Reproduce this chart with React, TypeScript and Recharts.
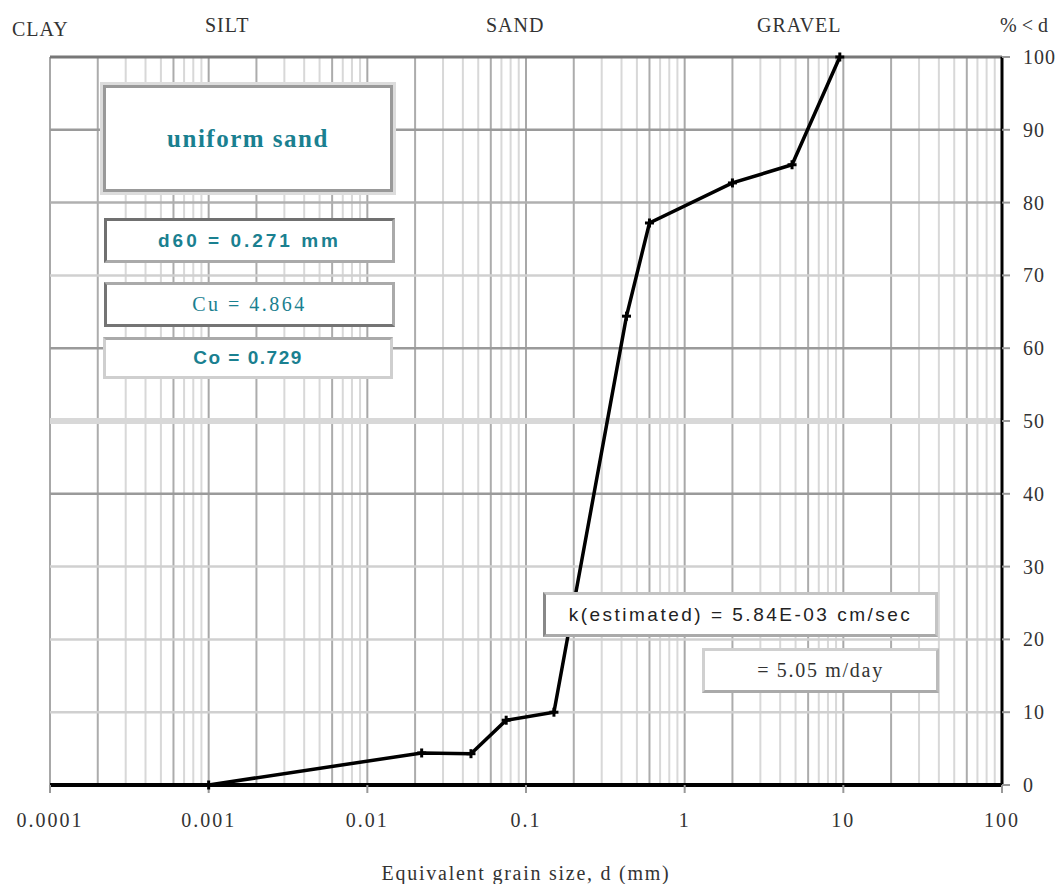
import React from 'react';
import { LineChart, Line, XAxis, YAxis, ReferenceLine } from 'recharts';

// sieve results: grain size (mm) vs percent finer
const grainSize = [0.001, 0.022, 0.045, 0.075, 0.15, 0.43, 0.6, 2.0, 4.75, 9.5];
const percentFiner = [0, 4.4, 4.3, 8.9, 10.0, 64.4, 77.2, 82.7, 85.2, 100];

const xTicks = [0.0001, 0.001, 0.01, 0.1, 1, 10, 100];
const yTicks = [0, 10, 20, 30, 40, 50, 60, 70, 80, 90, 100];
const decades = [0.0001, 0.001, 0.01, 0.1, 1, 10];
const minorSteps = [2, 3, 4, 5, 6, 7, 8, 9];
const darkerSteps = [2, 6];

const classLabels = ['CLAY', 'SILT', 'SAND', 'GRAVEL'];

const data = grainSize.map((size, i) => ({ size, pct: percentFiner[i] }));

const SERIF = '"Liberation Serif", "Times New Roman", serif';
const SANS = '"Liberation Sans", Arial, sans-serif';
const TEAL = '#1a8090';

const XTick = ({ x, y, payload }: any) => (
  <text x={x} y={y + 32} textAnchor="middle" fontFamily={SERIF} fontSize={20} letterSpacing={2} fill="#333">
    {String(payload.value)}
  </text>
);

const YTick = ({ x, y, payload }: any) => (
  <text x={x + 11} y={y} dy="0.35em" textAnchor="start" fontFamily={SERIF} fontSize={20} letterSpacing={1} fill="#333">
    {payload.value}
  </text>
);

const CrossDot = ({ cx, cy }: any) => {
  if (cx == null || cy == null) return null;
  return (
    <g>
      <line x1={cx - 4.5} y1={cy} x2={cx + 4.5} y2={cy} stroke="#000" strokeWidth={3} />
      <line x1={cx} y1={cy - 4.5} x2={cx} y2={cy + 4.5} stroke="#000" strokeWidth={3} />
    </g>
  );
};

const boxBase: React.CSSProperties = {
  position: 'absolute',
  boxSizing: 'border-box',
  background: '#fff',
  display: 'flex',
  alignItems: 'center',
  justifyContent: 'center',
  whiteSpace: 'nowrap',
};

const topLabel: React.CSSProperties = {
  position: 'absolute',
  fontFamily: SERIF,
  fontSize: 20,
  letterSpacing: 1,
  color: '#333',
  whiteSpace: 'nowrap',
};

export default function App() {
  const minorLines: number[] = [];
  const midLines: number[] = [];
  decades.forEach((d) => {
    minorSteps.forEach((m) => {
      const v = +(d * m).toPrecision(3);
      if (darkerSteps.includes(m)) midLines.push(v);
      else minorLines.push(v);
    });
  });

  const hColor = (v: number) => {
    if (v === 50) return { stroke: '#d8d8d8', w: 6 };
    if (v === 90 || v === 60 || v === 40) return { stroke: '#9a9a9a', w: 2.5 };
    if (v === 80) return { stroke: '#b0b0b0', w: 2.5 };
    return { stroke: '#d0d0d0', w: 2.5 };
  };

  return (
    <div style={{ position: 'absolute', left: 0, top: 0, width: 1056, height: 884, background: '#fff', overflow: 'hidden' }}>
      <LineChart width={1056} height={884} data={data} margin={{ top: 57, right: 0, left: 50, bottom: 0 }}>
        {minorLines.map((v) => (
          <ReferenceLine key={`mn-${v}`} x={v} stroke="#d8d8d8" strokeWidth={2} />
        ))}
        {midLines.map((v) => (
          <ReferenceLine key={`md-${v}`} x={v} stroke="#acacac" strokeWidth={2} />
        ))}
        {xTicks.map((v) => (
          <ReferenceLine key={`mj-${v}`} x={v} stroke="#a8a8a8" strokeWidth={2} />
        ))}
        {yTicks.slice(1, -1).map((v) => {
          const c = hColor(v);
          return <ReferenceLine key={`h-${v}`} y={v} stroke={c.stroke} strokeWidth={c.w} />;
        })}
        <ReferenceLine y={100} stroke="#777" strokeWidth={3} />
        <XAxis
          dataKey="size"
          type="number"
          scale="log"
          domain={[0.0001, 100]}
          ticks={xTicks}
          interval={0}
          allowDataOverflow
          height={99}
          axisLine={{ stroke: '#000', strokeWidth: 4 }}
          tickLine={{ stroke: '#999', strokeWidth: 2 }}
          tickSize={8}
          tick={<XTick />}
        />
        <YAxis
          orientation="right"
          type="number"
          domain={[0, 100]}
          ticks={yTicks}
          interval={0}
          width={54}
          axisLine={{ stroke: '#000', strokeWidth: 3 }}
          tickLine={{ stroke: '#999', strokeWidth: 2 }}
          tickSize={8}
          tick={<YTick />}
        />
        <Line
          type="linear"
          dataKey="pct"
          stroke="#000"
          strokeWidth={3.5}
          dot={<CrossDot />}
          activeDot={false}
          isAnimationActive={false}
        />
      </LineChart>

      {/* soil class labels along the top */}
      <div style={{ ...topLabel, left: 12, top: 18 }}>{classLabels[0]}</div>
      <div style={{ ...topLabel, left: 205, top: 14 }}>{classLabels[1]}</div>
      <div style={{ ...topLabel, left: 486, top: 14 }}>{classLabels[2]}</div>
      <div style={{ ...topLabel, left: 757, top: 14 }}>{classLabels[3]}</div>
      <div style={{ ...topLabel, left: 1000, top: 14, letterSpacing: 0 }}>% &lt; d</div>

      {/* annotation boxes */}
      <div
        style={{
          ...boxBase,
          left: 103, top: 85, width: 290, height: 107,
          border: '3px solid #999',
          boxShadow: '0 0 0 3px #dcdcdc',
          fontFamily: SERIF, fontWeight: 'bold', fontSize: 25, letterSpacing: 1.5, color: TEAL,
        }}
      >
        uniform sand
      </div>
      <div
        style={{
          ...boxBase,
          left: 104, top: 218, width: 291, height: 45,
          border: '3px solid #aaa', borderTopColor: '#707070', borderLeftColor: '#707070',
          fontFamily: SANS, fontWeight: 'bold', fontSize: 19, letterSpacing: 3, color: TEAL,
        }}
      >
        d60 = 0.271 mm
      </div>
      <div
        style={{
          ...boxBase,
          left: 104, top: 282, width: 291, height: 45,
          border: '3px solid #747474', borderTopColor: '#aaa', borderRightColor: '#aaa',
          fontFamily: SERIF, fontSize: 20, letterSpacing: 2.5, color: TEAL,
        }}
      >
        Cu = 4.864
      </div>
      <div
        style={{
          ...boxBase,
          left: 103, top: 337, width: 290, height: 42,
          border: '3px solid #cfcfcf', borderTopColor: '#aaa',
          fontFamily: SANS, fontWeight: 'bold', fontSize: 19, letterSpacing: 1.5, color: TEAL,
        }}
      >
        Co = 0.729
      </div>
      <div
        style={{
          ...boxBase,
          left: 543, top: 592, width: 395, height: 45,
          border: '3px solid #c4c4c4', borderLeftColor: '#888', borderBottomColor: '#aaa',
          fontFamily: SANS, fontSize: 19, letterSpacing: 2.5, color: '#222',
        }}
      >
        k(estimated) = 5.84E-03 cm/sec
      </div>
      <div
        style={{
          ...boxBase,
          left: 702, top: 648, width: 237, height: 45,
          border: '3px solid #d0d0d0', borderBottomColor: '#aaa', borderRightColor: '#bbb',
          fontFamily: SERIF, fontSize: 20, letterSpacing: 1.7, color: '#333',
        }}
      >
        = 5.05 m/day
      </div>

      {/* x axis title */}
      <div
        style={{
          position: 'absolute', left: 0, width: 1056, top: 862, textAlign: 'center',
          fontFamily: SERIF, fontSize: 20, letterSpacing: 1.75, color: '#333',
        }}
      >
        <span style={{ position: 'relative', left: -2 }}>Equivalent grain size, d (mm)</span>
      </div>
    </div>
  );
}
